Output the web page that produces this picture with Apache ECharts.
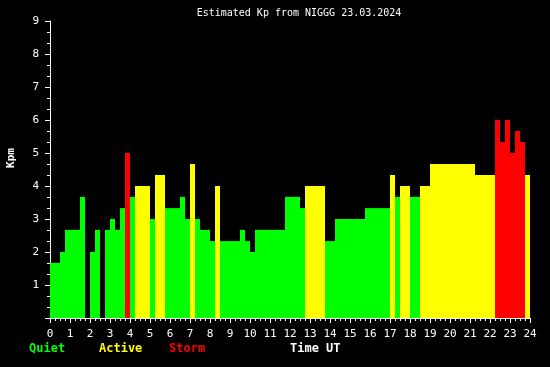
<!DOCTYPE html>
<html>
<head>
<meta charset="utf-8">
<script src="https://cdn.jsdelivr.net/npm/echarts@6/dist/echarts.min.js"></script>
<style>
html,body{margin:0;padding:0;background:#000;}
#c{width:550px;height:367px;}
</style>
</head>
<body>
<div id="c"></div>
<script>
// 15-minute time slots (UT)
const slots = [
 '00:00','00:15','00:30','00:45','01:00','01:15','01:30','01:45','02:00','02:15','02:30','02:45',
 '03:00','03:15','03:30','03:45','04:00','04:15','04:30','04:45','05:00','05:15','05:30','05:45',
 '06:00','06:15','06:30','06:45','07:00','07:15','07:30','07:45','08:00','08:15','08:30','08:45',
 '09:00','09:15','09:30','09:45','10:00','10:15','10:30','10:45','11:00','11:15','11:30','11:45',
 '12:00','12:15','12:30','12:45','13:00','13:15','13:30','13:45','14:00','14:15','14:30','14:45',
 '15:00','15:15','15:30','15:45','16:00','16:15','16:30','16:45','17:00','17:15','17:30','17:45',
 '18:00','18:15','18:30','18:45','19:00','19:15','19:30','19:45','20:00','20:15','20:30','20:45',
 '21:00','21:15','21:30','21:45','22:00','22:15','22:30','22:45','23:00','23:15','23:30','23:45'
];
// Estimated Kp per slot (null = no data)
const kp = [
 1.67,1.67,2.00,2.67,2.67,2.67,3.67,null,2.00,2.67,null,2.67,
 3.00,2.67,3.33,5.00,3.67,4.00,4.00,4.00,3.00,4.33,4.33,3.33,
 3.33,3.33,3.67,3.00,4.67,3.00,2.67,2.67,2.33,4.00,2.33,2.33,
 2.33,2.33,2.67,2.33,2.00,2.67,2.67,2.67,2.67,2.67,2.67,3.67,
 3.67,3.67,3.33,4.00,4.00,4.00,4.00,2.33,2.33,3.00,3.00,3.00,
 3.00,3.00,3.00,3.33,3.33,3.33,3.33,3.33,4.33,3.67,4.00,4.00,
 3.67,3.67,4.00,4.00,4.67,4.67,4.67,4.67,4.67,4.67,4.67,4.67,
 4.67,4.33,4.33,4.33,4.33,6.00,5.33,6.00,5.00,5.67,5.33,4.33
];
const yTicks = [0,1,2,3,4,5,6,7,8,9];
const hourTicks = [0,24];
const titleText = 'Estimated Kp from NIGGG 23.03.2024';
const levelNames = ['Quiet','Active','Storm'];
const levelColors = ['#00ff00','#ffff00','#ff0000'];
const levelLimits = [4,5];

function levelColor(v){
  if (v >= levelLimits[1]) return levelColors[2];
  if (v >= levelLimits[0]) return levelColors[1];
  return levelColors[0];
}

const FONT = 'DejaVu Sans Mono';
const chart = echarts.init(document.getElementById('c'), null, {renderer:'canvas'});
chart.setOption({
  backgroundColor:'#000',
  animation:false,
  grid:{left:50, right:20, top:21, bottom:49, containLabel:false, outerBoundsMode:'none'},
  xAxis:[{
    type:'value', min:hourTicks[0], max:hourTicks[1], interval:1,
    axisLine:{show:true, lineStyle:{color:'#fff', width:1}},
    axisTick:{show:true, length:5, lineStyle:{color:'#fff'}},
    minorTick:{show:true, splitNumber:4, length:3, lineStyle:{color:'#fff'}},
    splitLine:{show:false},
    axisLabel:{color:'#fff', fontFamily:FONT, fontSize:11, margin:11}
  },{
    type:'category', data:slots, show:false, boundaryGap:true
  }],
  yAxis:{
    type:'value', min:yTicks[0], max:yTicks[yTicks.length-1], interval:1,
    axisLine:{show:true, lineStyle:{color:'#fff', width:1}},
    axisTick:{show:true, length:5, lineStyle:{color:'#fff'}},
    minorTick:{show:true, splitNumber:3, length:3, lineStyle:{color:'#fff'}},
    splitLine:{show:false},
    axisLabel:{color:'#fff', fontFamily:FONT, fontSize:11, margin:11,
      formatter:function(v){return v===0?'':String(v);}}
  },
  series:[{
    type:'bar', xAxisIndex:1, barWidth:'100%', barCategoryGap:0,
    data:kp.map(function(v){return v===null?null:{value:v, itemStyle:{color:levelColor(v)}};}),
    z:1
  }],
  graphic:[
    {type:'text', x:299, y:13, style:{text:titleText, fill:'#fff', font:'10px '+FONT, textAlign:'center', textVerticalAlign:'middle'}},
    {type:'text', x:11, y:158, rotation:Math.PI/2, style:{text:'Kpm', fill:'#fff', font:'bold 11px '+FONT, textAlign:'center', textVerticalAlign:'middle'}},
    {type:'text', x:29, y:349, style:{text:levelNames[0], fill:levelColors[0], font:'bold 12px '+FONT, textVerticalAlign:'middle'}},
    {type:'text', x:99, y:349, style:{text:levelNames[1], fill:levelColors[1], font:'bold 12px '+FONT, textVerticalAlign:'middle'}},
    {type:'text', x:169, y:349, style:{text:levelNames[2], fill:levelColors[2], font:'bold 12px '+FONT, textVerticalAlign:'middle'}},
    {type:'text', x:290, y:349, style:{text:'Time UT', fill:'#fff', font:'bold 12px '+FONT, textVerticalAlign:'middle'}}
  ]
});
</script>
</body>
</html>
